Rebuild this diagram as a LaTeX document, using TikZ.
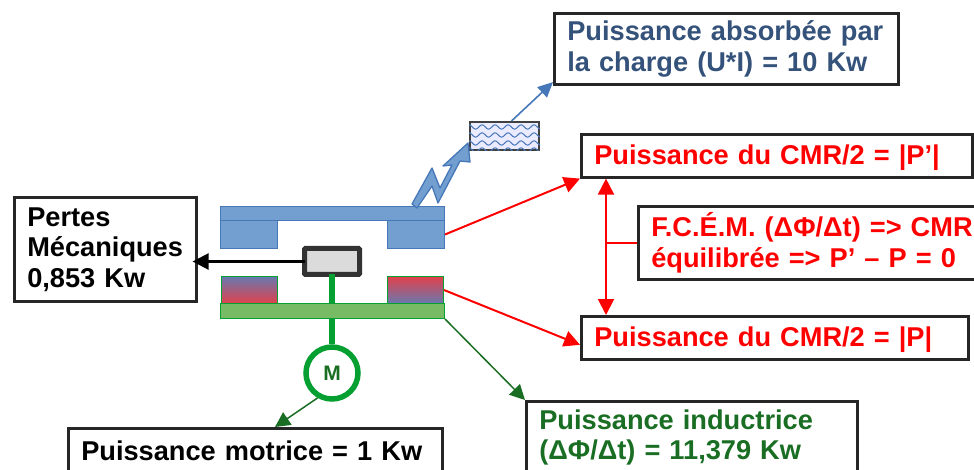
\documentclass[tikz,border=0pt]{standalone}
\usepackage{fontspec}
\setmainfont{Liberation Sans}
\usetikzlibrary{arrows.meta,decorations.pathmorphing}
\definecolor{statorblue}{RGB}{114,159,207}
\definecolor{statoredge}{RGB}{70,120,185}
\definecolor{rotorgreen}{RGB}{119,188,101}
\definecolor{shaftgreen}{RGB}{6,160,50}
\definecolor{darkgreen}{RGB}{25,110,35}
\definecolor{chargeblue}{RGB}{52,82,122}
\definecolor{coilred}{RGB}{225,65,75}
\definecolor{coilblue}{RGB}{105,120,175}
\begin{document}
\begin{tikzpicture}[
    x=1pt, y=-1pt,
    panel/.style={draw=black!85, line width=2.6pt, fill=white, anchor=north west, align=left,
        inner xsep=13pt, inner ysep=0pt, font=\fontsize{27.2}{30.5}\selectfont\bfseries},
    stator/.style={draw=statoredge, fill=statorblue, line width=1pt, anchor=north west, inner sep=0pt},
    rotor/.style={draw=shaftgreen, fill=rotorgreen, line width=1pt, anchor=north west, inner sep=0pt},
    coil/.style={draw=shaftgreen, line width=1pt, anchor=north west, inner sep=0pt},
    redarrow/.style={-{Triangle[length=16pt,width=16pt]}, red, line width=2pt},
    greenarrow/.style={-{Triangle[length=15pt,width=15pt]}, darkgreen, line width=1.5pt},
]
    \clip (0,0) rectangle (974,470);

    % Stator
    \node[stator, minimum width=224pt, minimum height=14pt] (statorbar) at (220,206) {};
    \node[stator, minimum width=57pt, minimum height=28pt] (statorL) at (220,220) {};
    \node[stator, minimum width=57pt, minimum height=28pt] (statorR) at (387,220) {};

    % Rotor
    \node[rotor, minimum width=224pt, minimum height=15pt] (rotorbar) at (220,303) {};
    \node[coil, minimum width=56pt, minimum height=27pt, top color=coilblue, bottom color=coilred] (coilL) at (221,276) {};
    \node[coil, minimum width=56pt, minimum height=27pt, top color=coilred, bottom color=coilblue] (coilR) at (387,276) {};

    % Friction block and motor
    \node[draw=black!80, fill=black!14, line width=5pt, rounded corners=1pt, anchor=north west, outer sep=0pt,
        minimum width=55pt, minimum height=26pt, inner sep=0pt] (frein) at (304.5,248.5) {};
    \node[draw=shaftgreen, fill=white, circle, line width=5.5pt, minimum size=52pt, inner sep=0pt,
        font=\fontsize{21}{21}\selectfont\bfseries, text=darkgreen] (moteur) at (332,373) {M};
    \draw[shaftgreen, line width=6.5pt] (frein.south) -- (rotorbar.north -| frein.south);
    \draw[shaftgreen, line width=6.5pt] (rotorbar.south -| moteur.north) -- (moteur.north);

    % Load
    \node[draw=black!75, fill=blue!8, line width=2pt, anchor=north west, minimum width=69pt,
        minimum height=28pt, inner sep=0pt] (charge) at (469,121) {};
    \begin{scope}
        \clip (charge.north west) rectangle (charge.south east);
        \foreach \yy in {127,135,143,150}
            \draw[statoredge, line width=1pt, decorate, decoration={snake, amplitude=2.2pt, segment length=13pt}]
                (465,\yy) -- (545,\yy);
    \end{scope}

    % Lightning
    \draw[statoredge, fill=statorblue, line width=1.3pt, line join=round]
        (412,204) -- (432,168) -- (440,188) -- (452,165) -- (443,166) -- (468,143)
        -- (470,162) -- (460,161) -- (438,203) -- (432,186) -- (417,208) -- cycle;

    % Texts
    \node[panel, text=chargeblue, minimum height=71.5pt, text width=318pt] (absorbee) at (553,12)
        {Puissance absorbée par\\la charge (U*I) = 10 Kw};
    \node[panel, text=red, minimum height=43pt, text width=365pt, text height=23pt] (cmrhaut) at (580,133)
        {Puissance du CMR/2 = |P’|};
    \node[panel, text=red, minimum height=73pt, text width=350pt] (fcem) at (637,205)
        {F.C.É.M. (ΔΦ/Δt) => CMR\\équilibrée => P’ – P = 0};
    \node[panel, text=red, minimum height=43pt, text width=361pt, text height=23pt] (cmrbas) at (580,315)
        {Puissance du CMR/2 = |P|};
    \node[panel, text=black, minimum height=104pt, text width=156pt] (pertes) at (13,196)
        {Pertes\\Mécaniques\\0,853 Kw};
    \node[panel, text=darkgreen, minimum height=72pt, text width=305pt] (inductrice) at (525,400)
        {Puissance inductrice\\(ΔΦ/Δt) = 11,379 Kw};
    \node[panel, text=black, minimum height=44pt, text width=348pt] (motrice) at (67,427)
        {Puissance motrice = 1 Kw};

    % Connectors
    \coordinate (fcemjoint) at ([xshift=26pt]cmrhaut.south west |- fcem.west);
    \draw[-{Triangle[length=16pt,width=16pt]}, black, line width=2.4pt] (frein.west) -- ([xshift=-5pt]frein.west -| pertes.east);
    \draw[redarrow] (statorR.east) -- (cmrhaut.south west);
    \draw[redarrow] (coilR.east) -- ([yshift=-7pt]cmrbas.west);
    \draw[{Triangle[length=16pt,width=16pt]}-{Triangle[length=16pt,width=16pt]}, red, line width=2pt]
        ([xshift=26pt]cmrhaut.south west) -- ([xshift=26pt]cmrbas.north west);
    \draw[red, line width=1.6pt] (fcem.west) -- (fcemjoint);
    \draw[greenarrow] (rotorbar.south east) -- (inductrice.north west);
    \draw[greenarrow] (moteur.240) -- ([xshift=208pt]motrice.north west);
    \draw[-{Triangle[length=15pt,width=14pt]}, statoredge, line width=1.6pt]
        ([xshift=7pt]charge.north) -- ([yshift=4pt]absorbee.south west);
\end{tikzpicture}
\end{document}
